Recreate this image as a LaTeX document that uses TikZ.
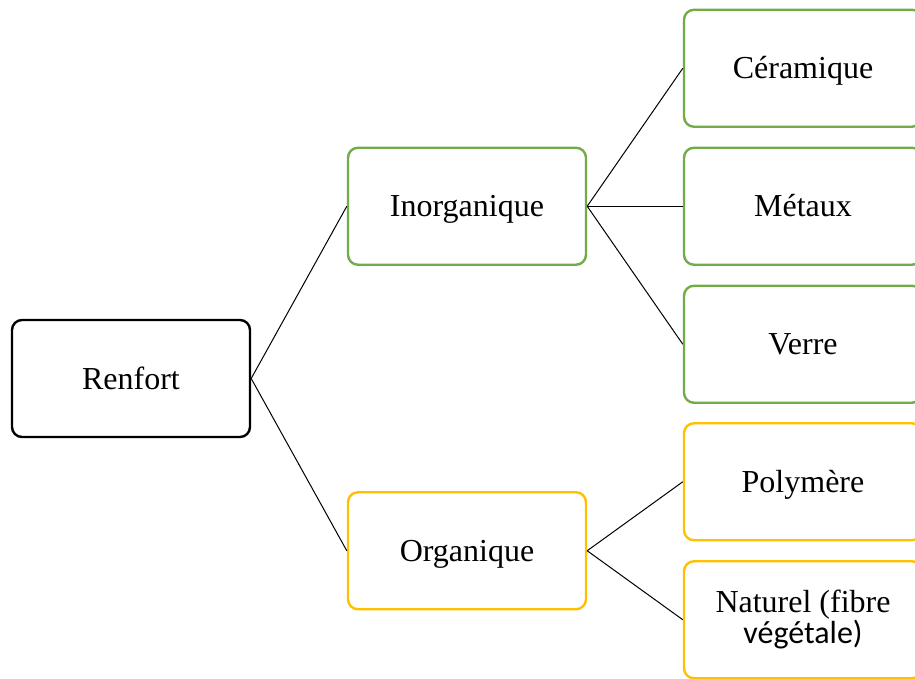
\documentclass[tikz,border=0pt]{standalone}
\usepackage{fontspec}
\setmainfont{Liberation Serif}
\newfontfamily\calibrifont{Carlito}
\usetikzlibrary{positioning}
\definecolor{boxgreen}{HTML}{70AD47}
\definecolor{boxgold}{HTML}{FFC000}

\begin{document}
\begin{tikzpicture}[
    x=1pt, y=1pt,
    grow'=right,
    level distance=336pt,
    level 1/.style={sibling distance=344.5pt},
    level 2/.style={sibling distance=138pt},
    catbox/.style={rectangle, rounded corners=10pt, draw, line width=2.4pt, fill=white,
        minimum width=238pt, minimum height=117pt, align=center,
        font=\fontsize{32}{31}\selectfont},
    oneline/.style={text height=28pt, text depth=7pt},
    mainbox/.style={catbox, oneline, draw=black},
    greenbox/.style={catbox, oneline, draw=boxgreen},
    goldbox/.style={catbox, oneline, draw=boxgold},
    twolinebox/.style={catbox, draw=boxgold},
    edge from parent/.style={draw, line width=1pt},
    edge from parent path={(\tikzparentnode.east) -- (\tikzchildnode.west)}
]
\useasboundingbox (0,0) rectangle (915,-679);
\clip (0,0) rectangle (915,-679);

% Root
\node[mainbox] (renfort) at (131,-378.5) {Renfort}
    child {
        node[greenbox] (inorganique) {Inorganique}
        child { node[greenbox] (ceramique) {Céramique} }
        child { node[greenbox] (metaux) {Métaux} }
        child { node[greenbox] (verre) {Verre} }
    }
    child {
        node[goldbox] (organique) {Organique}
        child { node[goldbox] (polymere) {Polymère} }
        child { node[twolinebox] (naturel) {Naturel (fibre\\{\calibrifont végétale)}} }
    };

\end{tikzpicture}
\end{document}
